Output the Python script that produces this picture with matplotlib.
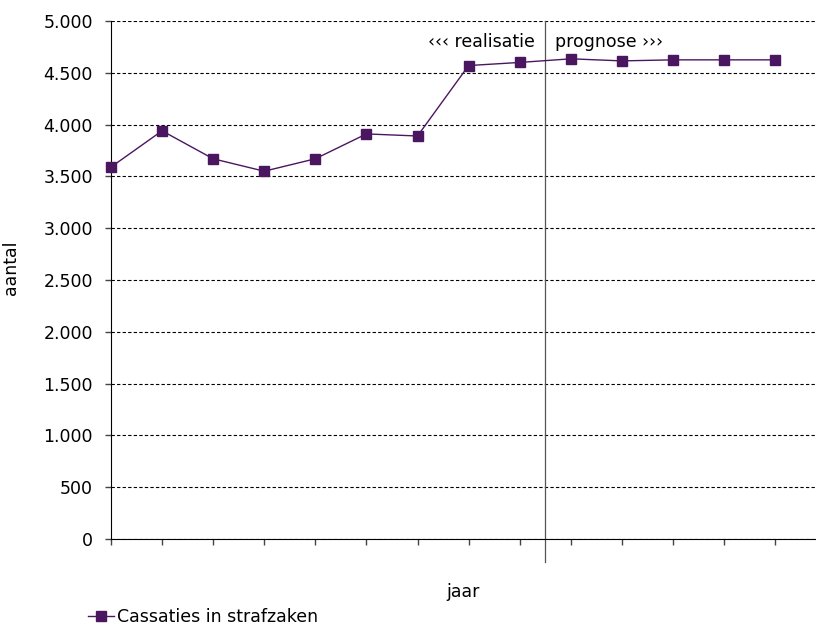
import matplotlib.pyplot as plt
import numpy as np

# gegevens
waarden = [3590, 3940, 3670, 3550, 3670, 3910, 3890, 4570, 4600, 4635, 4615, 4625, 4625, 4625]
reeks_naam = "Cassaties in strafzaken"
y_ticks = [0, 500, 1000, 1500, 2000, 2500, 3000, 3500, 4000, 4500, 5000]
y_labels = ["0", "500", "1.000", "1.500", "2.000", "2.500", "3.000", "3.500",
            "4.000", "4.500", "5.000"]
grens = 8.5  # tussen realisatie en prognose

kleur = "#4b1660"
fs = 12.5
plt.rcParams['font.family'] = ['DejaVu Sans']

fig = plt.figure(figsize=(8.16, 6.27), dpi=100)
ax = fig.add_axes([0.136, 0.1404, 0.864, 0.8261])

x = np.arange(len(waarden))
ax.plot(x, waarden, color=kleur, linewidth=1, marker="s", markersize=6.5,
        label=reeks_naam, clip_on=False, zorder=3)

ax.set_ylim(0, 5000)
ax.set_xlim(0, 13.8)
ax.set_yticks(y_ticks)
ax.set_yticklabels(y_labels, fontsize=fs)
ax.set_xticks(x)
ax.set_xticklabels([])
ax.tick_params(axis="both", direction="out", length=4, width=1, color="#444444")
ax.tick_params(axis="y", pad=9)
ax.yaxis.grid(True, linestyle=(0, (3, 2)), color="black", linewidth=0.8)
ax.set_axisbelow(True)

for s in ["top", "right"]:
    ax.spines[s].set_visible(False)
ax.spines["left"].set_color("black")
ax.spines["bottom"].set_color("black")

# scheidingslijn realisatie / prognose
ax.plot([grens, grens], [-220, 5000], color="#555555", linewidth=0.9, clip_on=False)
ax.text(grens - 0.2, 4800, "‹‹‹ realisatie", ha="right", va="center", fontsize=fs)
ax.text(grens + 0.2, 4800, "prognose ›››", ha="left", va="center", fontsize=fs)

fig.text(0.013, 0.573, "aantal", ha="center", va="center", rotation=90, fontsize=fs)
fig.text(0.567, 0.056, "jaar", ha="center", va="center", fontsize=fs)

fig.legend(loc="lower left", bbox_to_anchor=(0.089, -0.024), frameon=False,
           fontsize=fs, handlelength=1.5, handletextpad=0.15)

plt.savefig("out.png", dpi=100)
